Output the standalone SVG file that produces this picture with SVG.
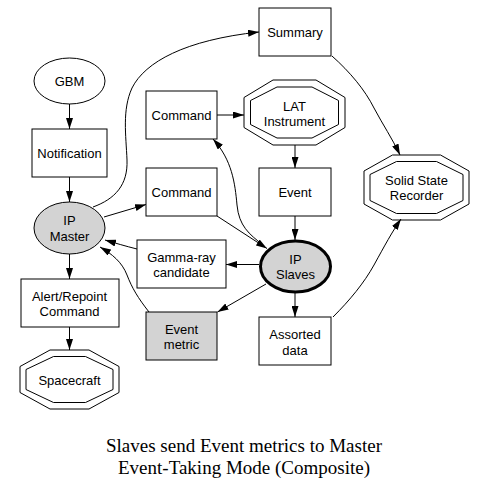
<svg xmlns="http://www.w3.org/2000/svg" width="487" height="488" viewBox="0 0 487 488">
<defs>
<marker id="ah" markerWidth="11" markerHeight="7" refX="11" refY="3.5" orient="auto" markerUnits="userSpaceOnUse"><path d="M0,0 L11,3.5 L0,7 z" fill="#000"/></marker>
</defs>
<style>
.n{fill:#fff;stroke:#000;stroke-width:1}
.g{fill:#d3d3d3;stroke:#000;stroke-width:1}
.b{fill:#d3d3d3;stroke:#000;stroke-width:3}
.o{fill:none;stroke:#000;stroke-width:1}
text{font-family:"Liberation Sans",Arial,sans-serif;font-size:13px;fill:#000;text-anchor:middle}
.t{font-family:"Liberation Serif","Times New Roman",serif;font-size:19px}
#edges path{fill:none;stroke:#000;stroke-width:1;marker-end:url(#ah)}
</style>
<rect width="487" height="488" fill="#fff"/>
<g id="edges">
<path d="M69.5,104 L69.5,129"/>
<path d="M69.5,177 L69.5,202"/>
<path d="M93,207 C115,199 128,185 127,160 C126,135 122,110 132,88 C145,62 185,40 259,32"/>
<path d="M104,217 L146,204.5"/>
<path d="M217,115 L244,115"/>
<path d="M295,145 L295,168"/>
<path d="M295,216 L295,240"/>
<path d="M217,216 L267,248.5"/>
<path d="M263,245 C249,234 239,226 237,205 C235,183 232,160 213,139"/>
<path d="M259,264.5 L226,264.5"/>
<path d="M137,249 C125,246 115,243 105,240"/>
<path d="M149,312 C138,298 132,288 127,275 C122,262 112,254 100,247"/>
<path d="M266,284 L217.5,312"/>
<path d="M295,293 L295,317"/>
<path d="M332,56 C350,72 365,90 374,108 C383,125 392,138 400,155"/>
<path d="M333,317 C350,300 364,283 374,265 C385,245 392,232 401,219"/>
<path d="M69.5,254 L69.5,279"/>
<path d="M69.5,327 L69.5,350"/>
</g>
<g id="gbm"><ellipse class="n" cx="69.5" cy="81" rx="35.5" ry="23"/><text x="69.5" y="86">GBM</text></g>
<g id="notification"><rect class="n" x="32" y="129" width="75" height="48"/><text x="69.5" y="158">Notification</text></g>
<g id="ipmaster"><ellipse class="g" cx="69.5" cy="228" rx="35.5" ry="26"/><text x="69.5" y="225">IP</text><text x="69.5" y="241">Master</text></g>
<g id="alert"><rect class="n" x="21" y="279" width="98" height="48"/><text x="69.5" y="300.5">Alert/Repoint</text><text x="69.5" y="316">Command</text></g>
<g id="spacecraft"><polygon class="o" points="50,350 89,350 119,366.5 119,392.5 89,409 50,409 20,392.5 20,366.5"/><polygon class="o" points="53.5,356.5 85.5,356.5 113,369.5 113,389.5 85.5,402.5 53.5,402.5 26,389.5 26,369.5"/><text x="69.5" y="385">Spacecraft</text></g>
<g id="command1"><rect class="n" x="146" y="91" width="71" height="48"/><text x="181.5" y="120">Command</text></g>
<g id="command2"><rect class="n" x="146" y="168" width="71" height="48"/><text x="181.5" y="197">Command</text></g>
<g id="gamma"><rect class="n" x="137" y="240" width="89" height="48"/><text x="181.5" y="261.5">Gamma-ray</text><text x="181.5" y="277">candidate</text></g>
<g id="eventmetric"><rect class="g" x="146" y="312" width="71" height="48"/><text x="181.5" y="333.5">Event</text><text x="181.5" y="349">metric</text></g>
<g id="summary"><rect class="n" x="259" y="8" width="72" height="48"/><text x="295" y="37">Summary</text></g>
<g id="lat"><polygon class="o" points="273,80 316,80 345,97.5 345,127.5 316,145 273,145 244,127.5 244,97.5"/><polygon class="o" points="277,87 312,87 338.5,100.5 338.5,124.5 312,138 277,138 250.5,124.5 250.5,100.5"/><text x="294.5" y="110.5">LAT</text><text x="294.5" y="125.5">Instrument</text></g>
<g id="event"><rect class="n" x="259" y="168" width="72" height="48"/><text x="295" y="197">Event</text></g>
<g id="ipslaves"><ellipse class="b" cx="295.5" cy="266.5" rx="35" ry="25.5"/><text x="295.5" y="263.5">IP</text><text x="295.5" y="279">Slaves</text></g>
<g id="assorted"><rect class="n" x="259" y="317" width="72" height="48"/><text x="295" y="339">Assorted</text><text x="295" y="354.5">data</text></g>
<g id="ssr"><polygon class="o" points="392.5,155 440.5,155 469,171 469,204 440.5,220 392.5,220 364,204 364,171"/><polygon class="o" points="396.5,161.5 436.5,161.5 463,174.5 463,200.5 436.5,213.5 396.5,213.5 370,200.5 370,174.5"/><text x="416.5" y="184.5">Solid State</text><text x="416.5" y="200">Recorder</text></g>
<g id="title"><text class="t" x="244" y="451.5">Slaves send Event metrics to Master</text><text class="t" x="244" y="473.5">Event-Taking Mode (Composite)</text></g>
</svg>
